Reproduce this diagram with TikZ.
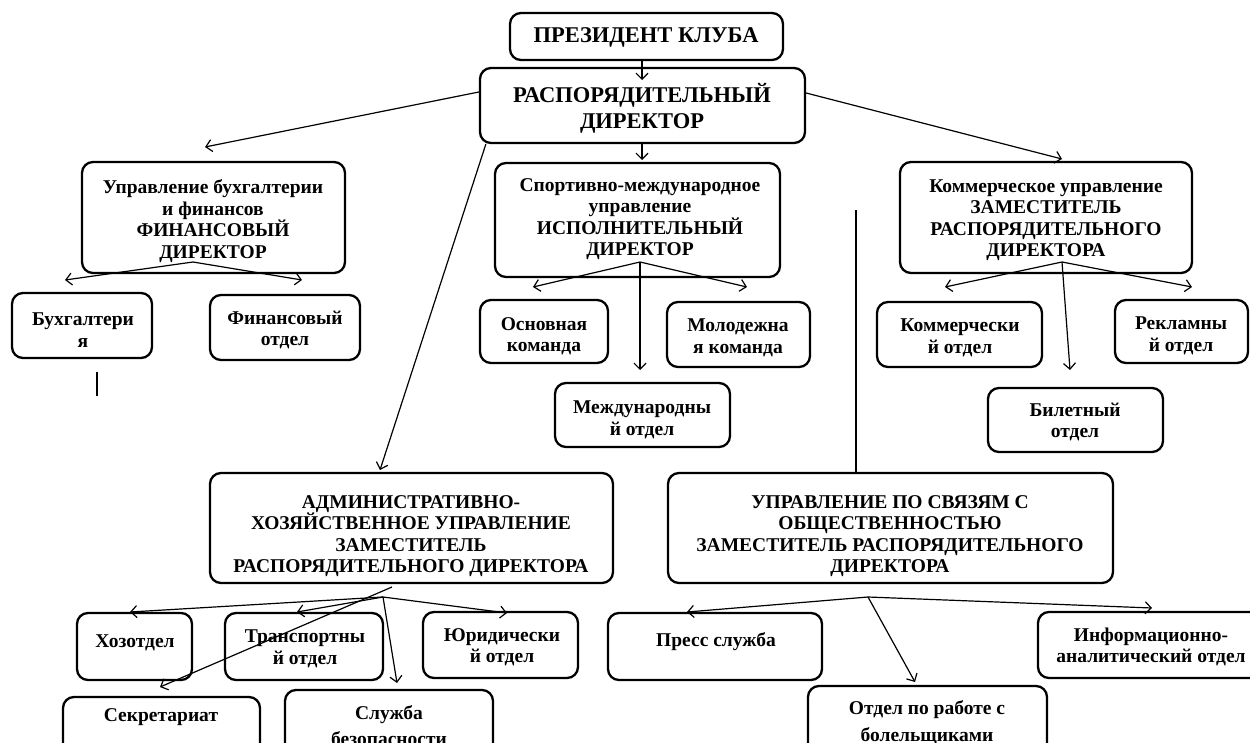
\documentclass[tikz,border=0pt]{standalone}
\usepackage{fontspec}
\setmainfont{Liberation Serif}
\usetikzlibrary{arrows.meta,fit}
\newcommand\mybx[5]{\coordinate (#1-a) at (#2,#3); \coordinate (#1-b) at (#4,#5); \node[box, fit=(#1-a)(#1-b)] (#1) {};}
\begin{document}
\begin{tikzpicture}[x=1pt,y=-1pt,
  box/.style={draw, line width=2.3pt, rounded corners=11pt, inner sep=0pt},
  txt/.style={font=\bfseries\fontsize{19.5}{21.5}\selectfont, align=center, inner sep=0pt},
  big/.style={font=\bfseries\fontsize{22.5}{26}\selectfont, align=center, inner sep=0pt},
  con/.style={line width=1.2pt},
  arr/.style={con, -{Straight Barb[length=6pt,width=12pt]}}]
\useasboundingbox (0,0) rectangle (1250,742);
\clip (0,0) rectangle (1250,742);
\fill[white] (0,0) rectangle (1250,742);

% boxes
\mybx{pres}{510}{13}{783}{60}
\mybx{dir}{480}{68}{805}{143}
\mybx{fin}{82}{162}{345}{273}
\mybx{buh}{12}{293}{152}{358}
\mybx{fo}{210}{295}{360}{360}
\mybx{sport}{495}{163}{780}{277}
\mybx{osn}{480}{300}{608}{363}
\mybx{mol}{667}{302}{810}{367}
\mybx{mezh}{555}{383}{730}{447}
\mybx{kom}{900}{162}{1192}{273}
\mybx{komo}{877}{302}{1042}{367}
\mybx{rek}{1115}{300}{1248}{363}
\mybx{bil}{988}{388}{1163}{452}
\mybx{adm}{210}{473}{613}{583}
\mybx{svz}{668}{473}{1113}{583}
\mybx{hoz}{77}{613}{192}{680}
\mybx{trans}{225}{613}{383}{680}
\mybx{yur}{423}{612}{578}{678}
\mybx{sekr}{63}{697}{260}{780}
\mybx{sluzh}{285}{690}{493}{780}
\mybx{press}{608}{613}{822}{680}
\mybx{bol}{808}{686}{1047}{780}
\mybx{info}{1038}{612}{1275}{678}

% texts
\node[big] (pres-t) at (646,37) {ПРЕЗИДЕНТ КЛУБА};
\node[big] (dir-t) at (642,108) {РАСПОРЯДИТЕЛЬНЫЙ\\ДИРЕКТОР};
\node[txt] (fin-t) at (213,221) {Управление бухгалтерии\\и финансов\\ФИНАНСОВЫЙ\\ДИРЕКТОР};
\node[txt] (buh-t) at (83,330) {Бухгалтери\\я};
\node[txt] (fo-t) at (285,330) {Финансовый\\отдел};
\node[txt] (sport-t) at (640,219) {Спортивно-международное\\управление\\ИСПОЛНИТЕЛЬНЫЙ\\ДИРЕКТОР};
\node[txt] (osn-t) at (544,336) {Основная\\команда};
\node[txt] (mol-t) at (738,338) {Молодежна\\я команда};
\node[txt] (mezh-t) at (642,420) {Международны\\й отдел};
\node[txt] (kom-t) at (1046,220) {Коммерческое управление\\ЗАМЕСТИТЕЛЬ\\РАСПОРЯДИТЕЛЬНОГО\\ДИРЕКТОРА};
\node[txt] (komo-t) at (960,338) {Коммерчески\\й отдел};
\node[txt] (rek-t) at (1181,336) {Рекламны\\й отдел};
\node[txt] (bil-t) at (1075,422) {Билетный\\отдел};
\node[txt] (adm-t) at (411,536) {АДМИНИСТРАТИВНО-\\ХОЗЯЙСТВЕННОЕ УПРАВЛЕНИЕ\\ЗАМЕСТИТЕЛЬ\\РАСПОРЯДИТЕЛЬНОГО ДИРЕКТОРА};
\node[txt] (svz-t) at (890,536) {УПРАВЛЕНИЕ ПО СВЯЗЯМ С\\ОБЩЕСТВЕННОСТЬЮ\\ЗАМЕСТИТЕЛЬ РАСПОРЯДИТЕЛЬНОГО\\ДИРЕКТОРА};
\node[txt] (hoz-t) at (135,643) {Хозотдел};
\node[txt] (trans-t) at (305,649) {Транспортны\\й отдел};
\node[txt] (yur-t) at (502,647) {Юридически\\й отдел};
\node[txt] (sekr-t) at (161,717) {Секретариат};
\node[txt, anchor=north] (sluzh-t) at (389,705) {Служба\\[4.5pt]безопасности};
\node[txt] (press-t) at (716,642) {Пресс служба};
\node[txt] (info-t) at (1151,647) {Информационно-\\аналитический отдел};
\node[txt, anchor=north] (bol-t) at (927,700) {Отдел по работе с\\[6pt]болельщиками};

% connectors from top
\coordinate (t1) at (642,80);
\draw[arr] (pres.south -| t1) -- (t1);
\coordinate (t2) at (205,147);
\draw[arr] ([yshift=13.5pt]dir.west) -- (t2);
\coordinate (t3) at (380,470);
\draw[arr] ([xshift=7pt]dir.south west) -- (t3);
\coordinate (t4) at (642,160);
\draw[arr] (dir.south -| t4) -- (t4);
\coordinate (t5) at (1062,159);
\draw[arr] ([yshift=12.5pt]dir.east) -- (t5);
\coordinate (v1) at (856,210);
\draw[con] (v1) -- (v1 |- svz.north);
\coordinate (s1) at (97,372);
\coordinate (s2) at (97,396);
\draw[con] (s1) -- (s2);

% finance
\coordinate (fo0) at (193,262);
\coordinate (fbuh) at (65,280);
\coordinate (ffo) at (302,280);
\draw[arr] (fo0) -- (fbuh);
\draw[arr] (fo0) -- (ffo);

% sport
\coordinate (so0) at (640,262);
\coordinate (sosn) at (533,287);
\coordinate (smol) at (747,287);
\coordinate (smezh) at (640,370);
\draw[arr] (so0) -- (sosn);
\draw[arr] (so0) -- (smol);
\draw[arr] (so0) -- (smezh);

% commercial
\coordinate (ko0) at (1062,262);
\coordinate (kkomo) at (945,287);
\coordinate (krek) at (1192,287);
\coordinate (kbil) at (1070,370);
\draw[arr] (ko0) -- (kkomo);
\draw[arr] (ko0) -- (krek);
\draw[arr] (ko0) -- (kbil);

% administrative
\coordinate (ao0) at (383,597);
\coordinate (ao1) at (392,587);
\coordinate (ahoz) at (130,612);
\coordinate (atrans) at (297,612);
\coordinate (asluzh) at (397,683);
\coordinate (ayur) at (507,613);
\coordinate (asekr) at (160,687);
\draw[arr] (ao0) -- (ahoz);
\draw[arr] (ao0) -- (atrans);
\draw[arr] (ao0) -- (asluzh);
\draw[arr] (ao0) -- (ayur);
\draw[arr] (ao1) -- (asekr);

% public relations
\coordinate (po0) at (868,597);
\coordinate (ppress) at (687,612);
\coordinate (pbol) at (915,682);
\coordinate (pinfo) at (1152,608);
\draw[arr] (po0) -- (ppress);
\draw[arr] (po0) -- (pbol);
\draw[arr] (po0) -- (pinfo);
\end{tikzpicture}
\end{document}
